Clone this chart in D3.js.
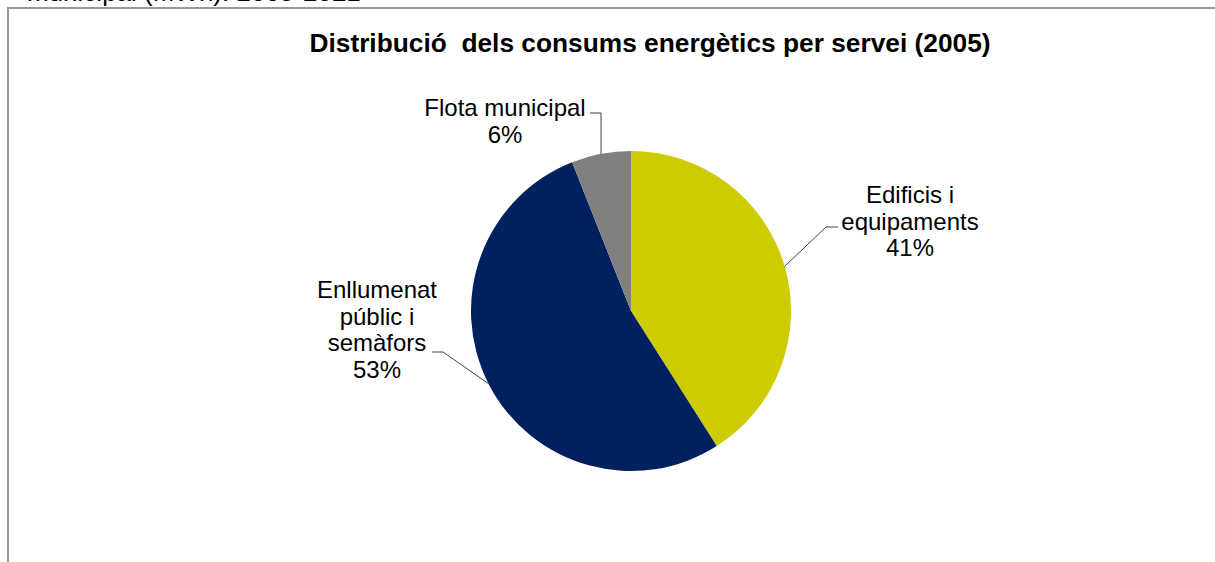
<!DOCTYPE html>
<html>
<head>
<meta charset="utf-8">
<script src="https://cdn.jsdelivr.net/npm/d3@7"></script>
<style>
  html, body { margin: 0; padding: 0; background: #fff; }
  svg { display: block; }
  text { font-family: Arial, "Liberation Sans", sans-serif; fill: #000; }
</style>
</head>
<body>
<svg id="chart" width="1215" height="562"></svg>
<script>
// Energy consumption by municipal service, 2005 (%)
const categories = ["Edificis i equipaments", "Enllumenat públic i semàfors", "Flota municipal"];
const values = [41, 53, 6];
const labelLines = [["Edificis i", "equipaments"], ["Enllumenat", "públic i", "semàfors"], ["Flota municipal"]];
const colors = ["#CCCC00", "#002060", "#808080"];

const titleText = "Distribució  dels consums energètics per servei (2005)";
const captionText = "municipal (MWh). 2005-2021";

const W = 1215, H = 562;
const svg = d3.select("#chart");

// caption line above the chart frame (runs off the top edge)
svg.append("text")
  .attr("x", 27).attr("y", 1)
  .style("font-size", "26px")
  .text(captionText);

// chart frame
svg.append("path")
  .attr("d", `M8,${H} L8,8 L${W},8`)
  .attr("fill", "none")
  .attr("stroke", "#999999")
  .attr("stroke-width", 2);

// title
svg.append("text")
  .attr("x", 650).attr("y", 52)
  .attr("text-anchor", "middle")
  .attr("xml:space", "preserve")
  .style("font-size", "26.3px")
  .style("font-weight", "bold")
  .style("white-space", "pre")
  .text(titleText);

// pie
const cx = 631, cy = 311, r = 160;
const data = categories.map((c, i) => ({ name: c, value: values[i], lines: labelLines[i], color: colors[i] }));

const pie = d3.pie().value(d => d.value).sort(null);
const arcs = pie(data);
const arc = d3.arc().innerRadius(0).outerRadius(r);

const g = svg.append("g").attr("transform", `translate(${cx},${cy})`);
g.selectAll("path.slice")
  .data(arcs)
  .join("path")
  .attr("class", "slice")
  .attr("d", arc)
  .attr("fill", d => d.data.color);

// label placement relative to the pie centre: text centre x, first baseline y,
// leader elbow and leader end
const labelLayout = [
  { x: 279, y: -108, elbow: [195, -84], end: [207, -84] },
  { x: -254, y: -13, elbow: [-188, 41], end: [-199, 41] },
  { x: -126, y: -195, elbow: null, end: [-41, -198] }
];
const lineH = 26.7;

const labels = svg.append("g").attr("transform", `translate(${cx},${cy})`);
arcs.forEach((a, i) => {
  const L = labelLayout[i];
  const mid = (a.startAngle + a.endAngle) / 2;
  const px = r * Math.sin(mid), py = -r * Math.cos(mid);
  const pts = [[px, py]];
  if (L.elbow) pts.push(L.elbow);
  else pts.push([px, L.end[1]]);
  pts.push(L.end);
  labels.append("path")
    .attr("d", d3.line()(pts))
    .attr("fill", "none")
    .attr("stroke", "#404040")
    .attr("stroke-width", 1);

  const t = labels.append("text")
    .attr("text-anchor", "middle")
    .style("font-size", "24px");
  const all = a.data.lines.concat([Math.round(a.data.value) + "%"]);
  all.forEach((s, k) => {
    t.append("tspan").attr("x", L.x).attr("y", L.y + k * lineH).text(s);
  });
});
</script>
</body>
</html>
